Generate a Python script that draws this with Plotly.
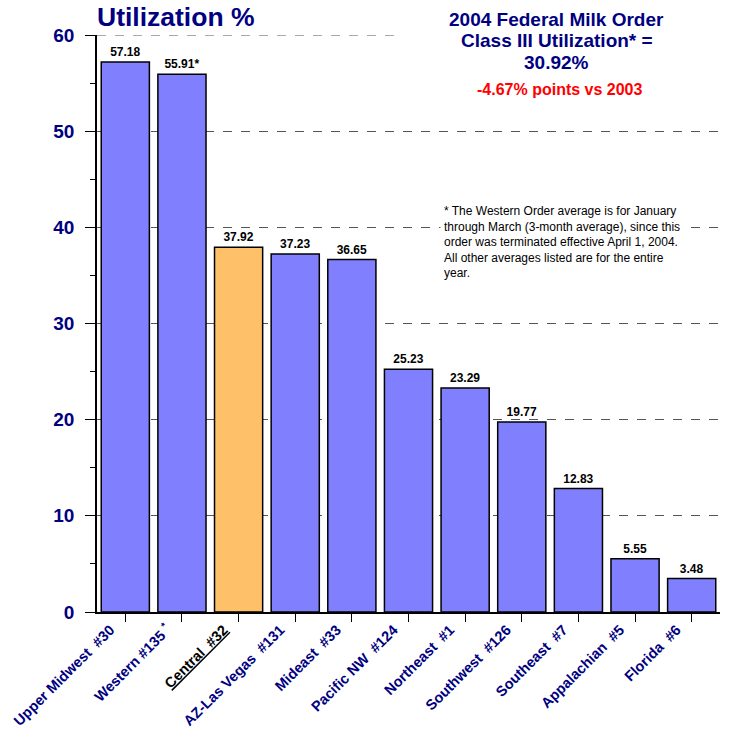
import plotly.graph_objects as go

categories = ["Upper Midwest\u00a0 #30", "Western #135 <sup>*</sup>",
              "<span style=\"color:black;text-decoration:underline\">Central\u00a0 #32</span>",
              "AZ-Las Vegas\u00a0 #131", "Mideast\u00a0 #33", "Pacific NW\u00a0 #124",
              "Northeast\u00a0 #1", "Southwest\u00a0 #126", "Southeast\u00a0 #7",
              "Appalachian\u00a0 #5", "Florida\u00a0 #6"]
values = [57.18, 55.91, 37.92, 37.23, 36.65, 25.23, 23.29, 19.77, 12.83, 5.55, 3.48]
value_labels = ["57.18", "55.91*", "37.92", "37.23", "36.65", "25.23", "23.29",
                "19.77", "12.83", "5.55", "3.48"]
highlight = "Central"
y_ticks = [0, 10, 20, 30, 40, 50, 60]

NAVY = "#000080"
FONT = "Arial, Liberation Sans, sans-serif"
colors = ["#FFC06A" if highlight in c else "#8080FF" for c in categories]
xpos = list(range(len(categories)))

fig = go.Figure()
fig.add_trace(go.Bar(
    x=xpos, y=values, text=value_labels, textposition="outside",
    textfont=dict(family=FONT, size=12, color="black", weight="bold"),
    cliponaxis=False,
    marker=dict(color=colors, line=dict(color="black", width=1.5)),
))

fig.update_layout(
    width=738, height=732,
    margin=dict(l=97, r=18, t=35, b=120, autoexpand=False),
    plot_bgcolor="white", paper_bgcolor="white",
    bargap=0.15, showlegend=False,
    font=dict(family=FONT),
    xaxis=dict(
        range=[-0.5, len(categories) - 0.5],
        tickmode="array", tickvals=xpos, ticktext=categories,
        tickangle=-45, ticks="outside", ticklen=8, tickcolor="black",
        ticklabelshift=-15, ticklabelstandoff=-6,
        tickfont=dict(family=FONT, size=14.5, color=NAVY, weight="bold"),
        showline=True, linecolor="black", linewidth=1.5, showgrid=False,
        automargin=False,
    ),
    yaxis=dict(
        range=[0, 60], tickvals=y_ticks,
        ticks="outside", ticklen=10, tickcolor="black", ticklabelstandoff=7,
        tickfont=dict(family=FONT, size=19, color=NAVY, weight="bold"),
        showline=True, linecolor="black", linewidth=1.5,
        showgrid=True, gridcolor="#555555", griddash="dash", gridwidth=1,
        zeroline=False, automargin=False,
        minor=dict(dtick=5, ticks="outside", ticklen=5, tickcolor="black", showgrid=False),
    ),
)

# top gridline (at range edge) drawn explicitly, stopping before the title box
fig.add_shape(type="line", xref="paper", yref="y", x0=0, x1=0.483, y0=y_ticks[-1], y1=y_ticks[-1],
              line=dict(color="#555555", width=1, dash="dash"), layer="below")

fig.add_annotation(xref="paper", yref="paper", x=-0.003, y=1.031, xanchor="left", yanchor="middle",
                   text="<b>Utilization %</b>", showarrow=False,
                   font=dict(family=FONT, size=26.5, color=NAVY))
title_lines = ["2004 Federal Milk Order", "Class III Utilization* =", "30.92%"]
title_y = [1.0277, 0.9913, 0.9532]
for t, yy in zip(title_lines, title_y):
    fig.add_annotation(xref="paper", yref="paper", x=0.738, y=yy, xanchor="center", yanchor="middle",
                       text="<b>" + t + "</b>", showarrow=False,
                       font=dict(family=FONT, size=19, color=NAVY))
fig.add_annotation(xref="paper", yref="paper", x=0.743, y=0.9047, xanchor="center", yanchor="middle",
                   text="<b>-4.67% points vs 2003</b>", showarrow=False,
                   font=dict(family=FONT, size=16, color="red"))
fig.add_annotation(xref="x", yref="y", x=5.55, y=38.45, xanchor="left", yanchor="middle",
                   text=("* The Western Order average is for January<br>"
                         "through March (3-month average), since this<br>"
                         "order was terminated effective April 1, 2004.<br>"
                         "All other averages listed are for the entire<br>"
                         "year."),
                   showarrow=False, align="left", bgcolor="white", borderpad=3,
                   font=dict(family=FONT, size=12, color="black"))

fig.write_html("out.html", config={"displayModeBar": False},
               post_script="document.body.style.margin='0';")
